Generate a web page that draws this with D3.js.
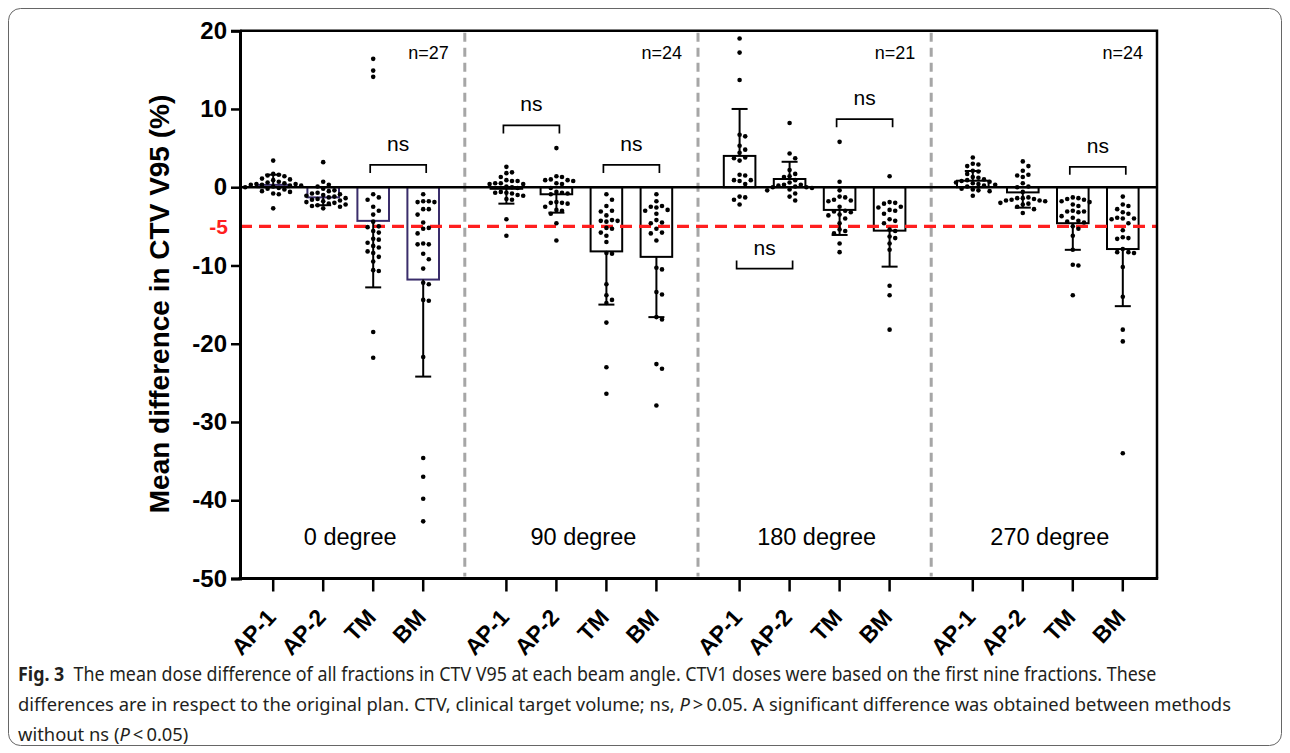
<!DOCTYPE html>
<html>
<head>
<meta charset="utf-8">
<script src="https://cdn.jsdelivr.net/npm/d3@7/dist/d3.min.js"></script>
<style>
  body { margin: 0; background: #fff; }
</style>
</head>
<body>
<svg id="chart" width="1290" height="753"></svg>
<script>
// categories
const groups = ['0 degree', '90 degree', '180 degree', '270 degree'];
const methods = ['AP-1', 'AP-2', 'TM', 'BM'];
const nLabels = ['n=27', 'n=24', 'n=21', 'n=24'];
const yTicks = [20, 10, 0, -10, -20, -30, -40, -50];

// bar heights (mean) and error bars (SD)
const means = [
  [0.3, -1.3, -4.3, -11.8],
  [-0.2, -0.9, -8.2, -8.9],
  [4.0, 1.05, -2.9, -5.55],
  [0.83, -0.66, -4.6, -7.9]
];
const sds = [
  [1.3, 1.0, 8.5, 12.4],
  [1.9, 2.35, 6.8, 7.7],
  [6.0, 2.2, 3.2, 4.6],
  [1.24, 1.95, 3.4, 7.3]
];

// individual fractions
const dots0 = [
  [3.4, 1.7, 1.6, 1.5, 1.4, 1.1, 1.0, 0.9, 0.7, 0.6, 0.5, 0.4, 0.4, 0.3, 0.3, 0.2, 0.2, 0.1, 0.0, -0.1, -0.2, -0.3, -0.5, -0.6, -0.8, -0.9, -2.7],
  [3.2, 0.7, 0.3, 0.1, -0.2, -0.4, -0.5, -0.7, -0.8, -0.9, -1.0, -1.1, -1.2, -1.3, -1.4, -1.5, -1.6, -1.7, -1.8, -1.9, -2.0, -2.1, -2.2, -2.3, -2.4, -2.5, -2.7],
  [16.4, 14.9, 14.1, -0.9, -1.3, -1.6, -2.5, -3.0, -3.5, -4.4, -5.0, -5.1, -5.6, -5.8, -6.6, -6.7, -7.1, -7.5, -7.7, -8.2, -8.4, -8.9, -9.5, -10.6, -10.7, -18.5, -21.8],
  [-0.9, -1.8, -1.8, -1.9, -1.9, -2.8, -2.8, -3.5, -4.5, -5.2, -5.3, -5.9, -7.2, -7.3, -7.3, -8.5, -9.2, -10.4, -12.2, -12.4, -14.4, -14.5, -21.7, -34.6, -37.0, -39.8, -42.7]
];
const dots90 = [
  [2.6, 1.9, 1.8, 1.3, 0.9, 0.8, 0.8, 0.5, 0.5, 0.4, 0.4, 0.1, 0.0, -0.1, -0.6, -0.7, -0.7, -0.8, -1.0, -1.1, -1.5, -1.6, -4.1, -6.2],
  [5.0, 1.4, 1.3, 1.0, 0.9, 0.9, 0.8, 0.5, 0.4, -0.1, -0.6, -0.7, -0.8, -0.9, -1.9, -2.0, -2.0, -2.1, -2.5, -2.9, -3.0, -3.4, -4.6, -6.8],
  [-0.9, -1.6, -2.4, -3.0, -3.1, -3.6, -4.2, -4.3, -4.3, -4.4, -5.2, -5.3, -5.8, -6.2, -7.0, -8.4, -8.5, -12.4, -13.8, -14.4, -14.8, -17.3, -23.0, -26.4],
  [-0.9, -1.8, -2.4, -2.5, -2.6, -2.9, -3.0, -3.4, -4.2, -4.5, -4.6, -5.3, -5.8, -5.9, -6.8, -10.3, -10.5, -13.4, -13.7, -16.6, -16.9, -22.6, -23.2, -27.9]
];
const dots180 = [
  [19.0, 17.2, 13.7, 6.7, 6.5, 5.3, 4.8, 4.4, 3.8, 3.7, 3.4, 1.6, 1.5, 0.9, 0.9, 0.8, 0.4, -1.2, -1.3, -1.6, -2.2],
  [8.2, 4.3, 3.7, 2.2, 1.7, 1.4, 1.3, 0.9, 0.6, 0.3, 0.3, 0.2, 0.1, 0.0, 0.0, -0.1, -0.3, -0.4, -0.8, -1.2, -1.7],
  [5.8, 0.7, -0.4, -1.2, -1.3, -1.6, -1.7, -1.8, -2.5, -3.0, -3.1, -3.2, -3.5, -3.6, -4.0, -4.6, -5.4, -5.6, -5.9, -7.2, -8.3],
  [1.4, -1.9, -2.0, -2.1, -2.5, -2.6, -2.9, -3.0, -3.4, -4.1, -4.3, -4.6, -5.4, -5.6, -6.3, -6.5, -7.2, -8.0, -12.6, -13.8, -18.2]
];
const dots270 = [
  [3.8, 3.0, 2.9, 2.7, 2.1, 2.0, 1.7, 1.3, 1.2, 1.0, 0.9, 0.8, 0.7, 0.6, 0.5, 0.4, 0.3, 0.2, 0.1, -0.2, -0.3, -0.4, -0.5, -1.1],
  [3.3, 2.7, 2.1, 1.6, 1.5, 1.3, 0.5, 0.1, 0.0, -0.6, -1.3, -1.4, -1.4, -1.5, -1.6, -1.7, -1.7, -1.8, -2.0, -2.1, -2.2, -2.5, -2.8, -3.3],
  [-1.3, -1.4, -1.5, -1.6, -1.8, -1.9, -2.2, -2.4, -3.0, -3.1, -3.1, -3.2, -3.7, -3.9, -4.3, -4.4, -4.5, -5.0, -5.3, -6.2, -8.0, -9.9, -10.0, -13.8],
  [-1.2, -2.2, -2.4, -2.8, -3.2, -3.4, -3.9, -4.0, -4.0, -4.1, -4.6, -5.5, -6.4, -6.5, -6.6, -7.9, -8.3, -8.3, -8.4, -10.2, -14.0, -18.2, -19.7, -34.0]
];
const allDots = [dots0, dots90, dots180, dots270];

// "ns" brackets: group, first method, second method, level, 1 = legs down / -1 = legs up
const nsGroup = [0, 1, 1, 2, 2, 3];
const nsFrom = [2, 0, 2, 2, 0, 2];
const nsTo = [3, 1, 3, 3, 1, 3];
const nsLevel = [2.85, 7.9, 2.85, 8.7, -10.4, 2.6];
const nsDir = [1, 1, 1, 1, -1, 1];

const threshold = -5;

const svg = d3.select('#chart');
const groupStep = 4.664;   // slots per group (4 bars + gap)
const slot = (g, i) => g * groupStep + i;

const x = d3.scaleLinear().domain([-0.664, 17.676]).range([240, 1157]);
const y = d3.scaleLinear().domain([-50, 20]).range([578.5, 30.7]);
const barW = 31.6;
const font = 'Liberation Sans, Arial, sans-serif';

// figure box
svg.append('rect')
  .attr('x', 8.5).attr('y', 8.5).attr('width', 1273).attr('height', 737)
  .attr('rx', 12).attr('fill', 'none').attr('stroke', '#666').attr('stroke-width', 1);

const plot = svg.append('g');

// group dividers
for (let g = 0; g < 3; g++) {
  const xd = x(slot(g, 3) + (groupStep - 3) / 2);
  plot.append('line')
    .attr('x1', xd).attr('x2', xd).attr('y1', y(20) + 2).attr('y2', y(-50) - 2)
    .attr('stroke', '#a6a6a6').attr('stroke-width', 3).attr('stroke-dasharray', '9,6');
}

// bars
groups.forEach((gName, g) => {
  methods.forEach((m, i) => {
    const cx = x(slot(g, i));
    const v = means[g][i];
    plot.append('rect')
      .attr('x', cx - barW / 2)
      .attr('y', Math.min(y(v), y(0)))
      .attr('width', barW)
      .attr('height', Math.abs(y(v) - y(0)))
      .attr('fill', '#fff')
      .attr('stroke', g === 0 ? '#3a2d6b' : '#000')
      .attr('stroke-width', 2);
  });
});

// zero line and threshold
plot.append('line')
  .attr('x1', x.range()[0]).attr('x2', x.range()[1]).attr('y1', y(0)).attr('y2', y(0))
  .attr('stroke', '#000').attr('stroke-width', 2.5);
plot.append('line')
  .attr('x1', x.range()[0]).attr('x2', x.range()[1]).attr('y1', y(threshold)).attr('y2', y(threshold))
  .attr('stroke', '#ff1f1f').attr('stroke-width', 3.2).attr('stroke-dasharray', '12,7');

// error bars (one direction, away from zero)
groups.forEach((gName, g) => {
  methods.forEach((m, i) => {
    const cx = x(slot(g, i));
    const v = means[g][i];
    const e = v >= 0 ? v + sds[g][i] : v - sds[g][i];
    plot.append('line')
      .attr('x1', cx).attr('x2', cx).attr('y1', y(v)).attr('y2', y(e))
      .attr('stroke', '#000').attr('stroke-width', 2);
    plot.append('line')
      .attr('x1', cx - 8).attr('x2', cx + 8).attr('y1', y(e)).attr('y2', y(e))
      .attr('stroke', '#000').attr('stroke-width', 2);
  });
});

// dots, spread sideways like a column scatter
const r = 2.3, gapPx = 5.6;
groups.forEach((gName, g) => {
  methods.forEach((m, i) => {
    const cx = x(slot(g, i));
    const placed = [];
    allDots[g][i].forEach(v => {
      const py = y(v);
      let k = 0, off = 0;
      while (true) {
        off = k === 0 ? 0 : (k % 2 ? 1 : -1) * Math.ceil(k / 2) * gapPx;
        const hit = placed.some(p => Math.hypot(p[0] - off, p[1] - py) < gapPx);
        if (!hit) break;
        k++;
      }
      placed.push([off, py]);
    });
    plot.append('g').selectAll('circle')
      .data(placed)
      .enter()
      .append('circle')
      .attr('cx', d => cx + d[0])
      .attr('cy', d => d[1])
      .attr('r', r)
      .attr('fill', '#000');
  });
});

// ns brackets
nsGroup.forEach((g, k) => {
  const x1 = x(slot(g, nsFrom[k])) - 3;
  const x2 = x(slot(g, nsTo[k])) + 3;
  const yb = y(nsLevel[k]);
  const leg = 8 * nsDir[k];
  plot.append('path')
    .attr('d', `M${x1},${yb + leg}V${yb}H${x2}V${yb + leg}`)
    .attr('fill', 'none').attr('stroke', '#000').attr('stroke-width', 1.7);
  const ty = nsDir[k] > 0 ? yb - 14 : yb + leg - 6;
  plot.append('text')
    .attr('x', (x1 + x2) / 2).attr('y', ty)
    .attr('text-anchor', 'middle')
    .style('font-family', font)
    .style('font-size', '21px')
    .text('ns');
});

// n labels and group names
groups.forEach((gName, g) => {
  const right = x(slot(g, 3) + (groupStep - 3) / 2) - 16;
  plot.append('text')
    .attr('x', g === 3 ? x.range()[1] - 14 : right).attr('y', 59)
    .attr('text-anchor', 'end')
    .style('font-family', font)
    .style('font-size', '18px')
    .text(nLabels[g]);
  plot.append('text')
    .attr('x', (x(slot(g, 0)) + x(slot(g, 3))) / 2 + 2).attr('y', 545)
    .attr('text-anchor', 'middle')
    .style('font-family', font)
    .style('font-size', '23.5px')
    .text(gName);
});

// frame top and right
plot.append('path')
  .attr('d', `M${x.range()[0]},${y(20)}H${x.range()[1]}V${y(-50)}`)
  .attr('fill', 'none').attr('stroke', '#000').attr('stroke-width', 2.5);

// y axis
const yAxis = plot.append('g')
  .attr('transform', `translate(${x.range()[0]},0)`)
  .call(d3.axisLeft(y).tickValues(yTicks).tickSize(9).tickPadding(4).tickFormat(d => String(d)));
yAxis.select('.domain').attr('stroke-width', 3);
yAxis.selectAll('.tick line').attr('stroke-width', 2.5);
yAxis.selectAll('.tick text')
  .style('font-family', font)
  .style('font-size', '24px').style('font-weight', 'bold').attr('fill', '#000');

plot.append('text')
  .attr('x', 228).attr('y', y(threshold)).attr('dy', '0.36em')
  .attr('text-anchor', 'end')
  .style('font-family', font)
  .style('font-size', '21px').style('font-weight', 'bold')
  .attr('fill', '#ff1f1f')
  .text(String(threshold));

// x axis
const xAxisG = plot.append('g').attr('transform', `translate(0,${y(-50)})`);
xAxisG.append('line')
  .attr('x1', x.range()[0] - 1.5).attr('x2', x.range()[1] + 1.2)
  .attr('stroke', '#000').attr('stroke-width', 3);
groups.forEach((gName, g) => {
  methods.forEach((m, i) => {
    const cx = x(slot(g, i));
    xAxisG.append('line')
      .attr('x1', cx).attr('x2', cx).attr('y1', 0).attr('y2', 13)
      .attr('stroke', '#000').attr('stroke-width', 2.5);
    xAxisG.append('text')
      .attr('transform', `translate(${cx + 4},${40}) rotate(-47)`)
      .attr('text-anchor', 'end')
      .style('font-family', font)
      .style('font-size', '23px').style('font-weight', 'bold')
      .text(m);
  });
});

// y title
svg.append('text')
  .attr('transform', `translate(169,304) rotate(-90)`)
  .attr('text-anchor', 'middle')
  .style('font-family', font)
  .style('font-size', '28px').style('font-weight', 'bold')
  .text('Mean difference in CTV V95 (%)');

// caption
const capFont = 'Noto Sans, Open Sans, sans-serif';
const capLines = [
  { y: 681, w: 1139, parts: [['Fig. 3', 'bold'], ['  The mean dose difference of all fractions in CTV V95 at each beam angle. CTV1 doses were based on the first nine fractions. These', '']] },
  { y: 711, w: 1214, parts: [['differences are in respect to the original plan. CTV, clinical target volume; ns, ', ''], ['P', 'italic'], ['\u2009>\u20090.05. A significant difference was obtained between methods', '']] },
  { y: 741, w: null, parts: [['without ns (', ''], ['P', 'italic'], ['\u2009<\u20090.05)', '']] }
];
let lastScale = 0.85;
capLines.forEach(line => {
  const t = svg.append('text')
    .attr('x', 0).attr('y', 0)
    .style('font-family', capFont).style('font-size', '19px').attr('fill', '#231f20')
    .attr('xml:space', 'preserve');
  line.parts.forEach(p => {
    const ts = t.append('tspan').text(p[0]);
    if (p[1] === 'bold') ts.style('font-weight', 'bold');
    if (p[1] === 'italic') ts.style('font-style', 'italic');
  });
  const len = t.node().getComputedTextLength();
  const s = line.w ? line.w / len : lastScale;
  lastScale = s;
  t.attr('transform', `translate(18,${line.y}) scale(${s},1)`);
});
</script>
</body>
</html>
